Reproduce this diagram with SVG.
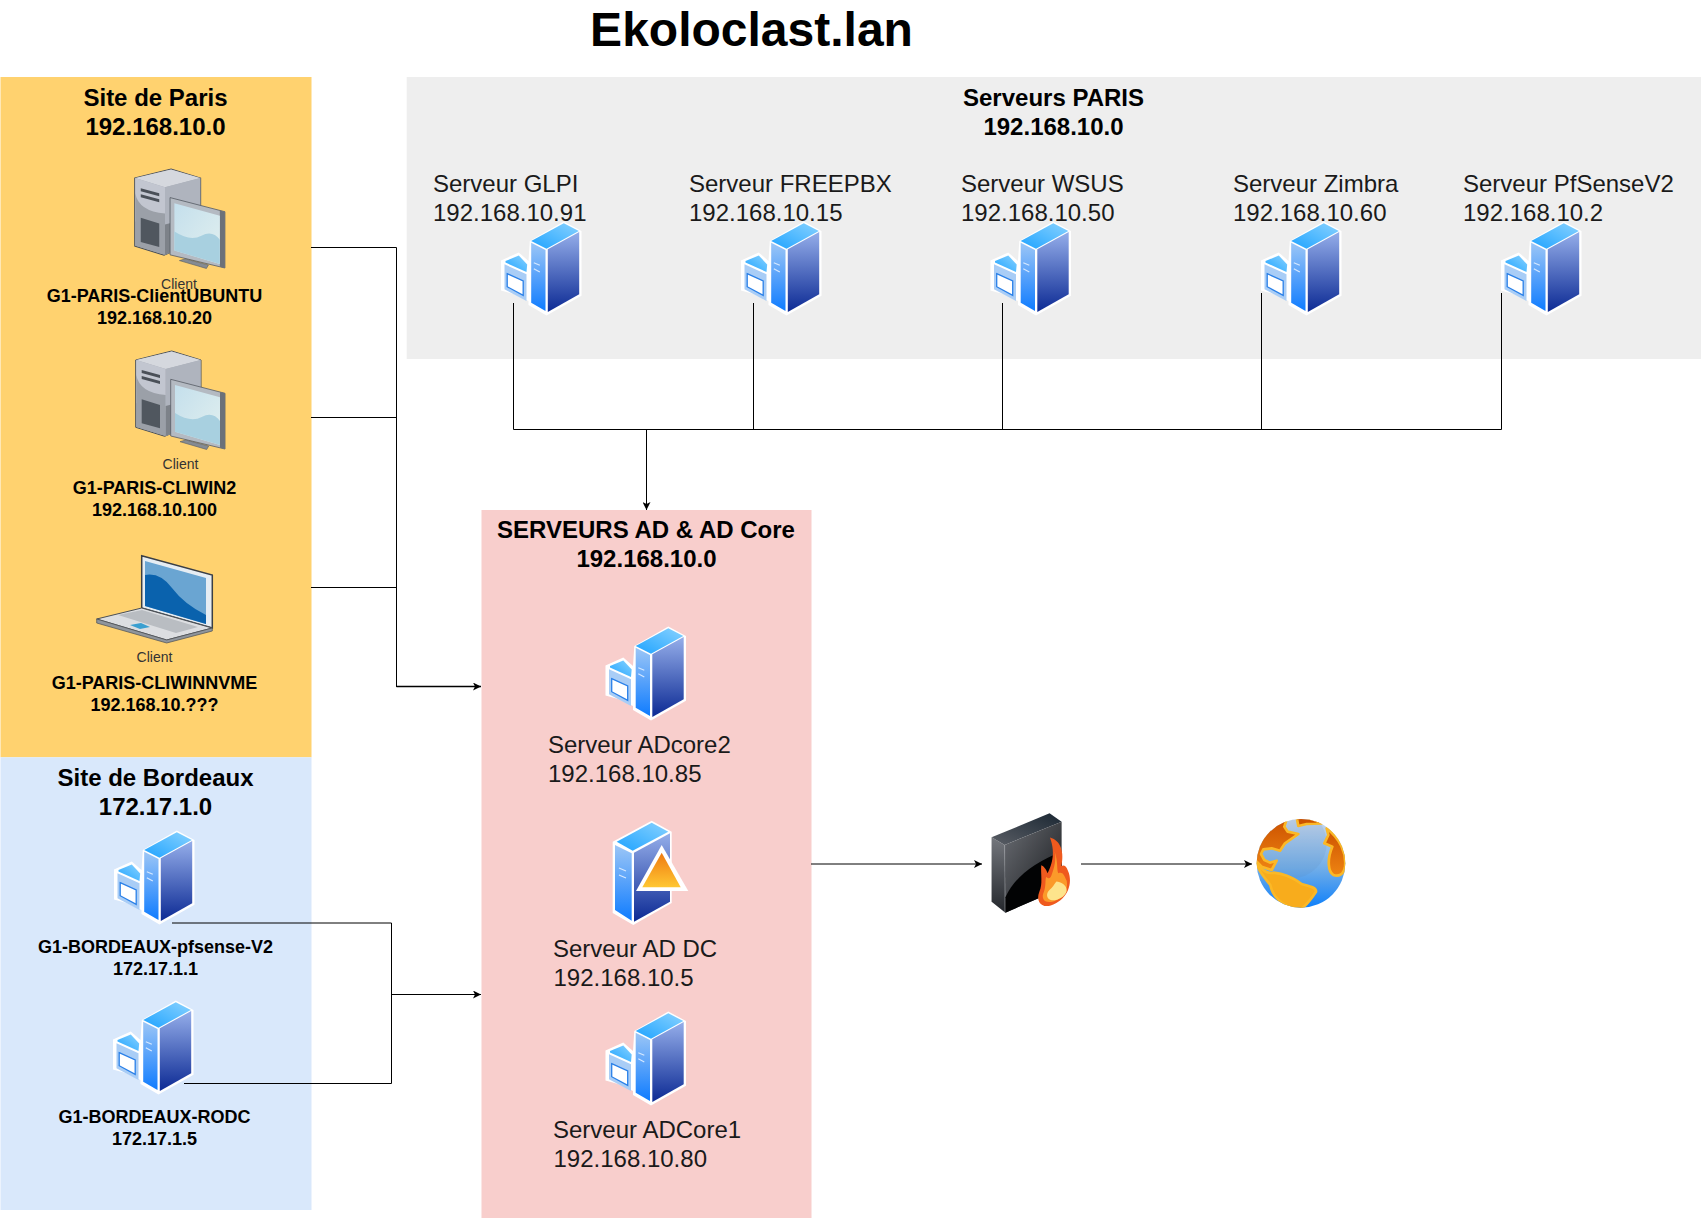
<svg xmlns="http://www.w3.org/2000/svg" width="1701" height="1218" viewBox="0 0 1701 1218">
<style>
text{font-family:"Liberation Sans",Arial,sans-serif;fill:#000}
.title{font-size:48px;font-weight:700;text-anchor:middle}
.g{font-size:24px;font-weight:700;text-anchor:middle}
.s{font-size:24px;fill:#1a1a1a}
.n{font-size:18px;font-weight:700;text-anchor:middle}
.c{font-size:14px;text-anchor:middle;fill:#333}
.l{fill:none;stroke:#000;stroke-width:1}
</style>
<defs>
<marker id="a" markerWidth="10" markerHeight="8" refX="8" refY="4" orient="auto" markerUnits="userSpaceOnUse"><path d="M0 0L8 4L0 8L2 4Z" fill="#000"/></marker>
<linearGradient id="gl" x1="0" y1="0" x2="0" y2="1"><stop offset="0" stop-color="#9cc6f6"/><stop offset="1" stop-color="#0f7cff"/></linearGradient>
<linearGradient id="gr" x1="0" y1="0" x2="0" y2="1"><stop offset="0" stop-color="#95aeea"/><stop offset="1" stop-color="#0c2a94"/></linearGradient>
<linearGradient id="gt" x1="0" y1="1" x2="1" y2="0"><stop offset="0" stop-color="#1fa3ff"/><stop offset="1" stop-color="#88d2ff"/></linearGradient>
<linearGradient id="go" x1="0" y1="0" x2="0" y2="1"><stop offset="0" stop-color="#ef7a10"/><stop offset="1" stop-color="#ffc733"/></linearGradient>
<linearGradient id="fl" x1="0" y1="0" x2="0" y2="1"><stop offset="0" stop-color="#74777d"/><stop offset="1" stop-color="#24272c"/></linearGradient>
<linearGradient id="ft" x1="0" y1="1" x2="1" y2="0"><stop offset="0" stop-color="#5a5e65"/><stop offset="1" stop-color="#1b2733"/></linearGradient>
<linearGradient id="ff" x1="0" y1="0" x2="1" y2="1"><stop offset="0" stop-color="#6a6d73"/><stop offset="1" stop-color="#141619"/></linearGradient>
<linearGradient id="gg" x1="0" y1="0" x2="0" y2="1"><stop offset="0" stop-color="#c9d8ec"/><stop offset=".55" stop-color="#72aee8"/><stop offset="1" stop-color="#0f80fa"/></linearGradient>
<linearGradient id="gf" x1="0" y1="0" x2="0" y2="1"><stop offset="0" stop-color="#cc5200"/><stop offset="1" stop-color="#ee8412"/></linearGradient>
<linearGradient id="gs" x1="0" y1="0" x2="1" y2="1"><stop offset="0" stop-color="#c4dfec"/><stop offset="1" stop-color="#e2f0ef"/></linearGradient>
<clipPath id="globe"><circle cx="168" cy="160" r="133"/></clipPath>
<symbol id="srv" viewBox="0 0 82 95" width="82" height="95" overflow="visible">
<polygon points="29.300,20 63.300,0.500 81,10 81,74.800 46,94.500 28,84 28,80 13,73 0.500,69.500 0.500,39.500 18.300,31.500 28,40" fill="#fff"/>
<polygon points="30.700,21.700 45,29 45,90 30.700,81.700" fill="url(#gl)"/>
<polygon points="47.300,28.300 78.700,11 78.700,73.300 47.300,91" fill="url(#gr)"/>
<polygon points="30.700,20 63.300,2.300 78.300,10 46,27.700" fill="url(#gt)"/>
<polygon points="5,40 18.300,34.500 26.700,43.500 26,51 5,41.500" fill="url(#gt)"/>
<polygon points="4,43.300 26,53.300 26,80 4,68.300" fill="#a9cdf6"/>
<polygon points="6.700,52.700 22.700,60 22.700,74.300 6.700,65.700" fill="#fff" stroke="#2a80e8" stroke-width="1.300"/>
<path d="M33.300 41.700L39.300 44.300M33.300 47.700L39.300 51" stroke="#d5e8ff" stroke-width="1.200" fill="none"/>
</symbol>
<symbol id="cli" viewBox="0 0 90 100" overflow="visible">
<polygon points="0,9 36,0 65.300,9 65.300,70 29,85.300 0,76.300" fill="#a8adb6" stroke="#4a5058" stroke-width="1"/>
<polygon points="0.500,9 36,0.500 65,9 30,18" fill="#d5d8de"/>
<path d="M0.500 9L30 18V60L0.500 52Z" fill="#c2c6d0"/>
<path d="M0.500 24Q4 42 30 44V85L0.500 76Z" fill="#9ba0a8"/>
<polygon points="30,18 65,9 65,70 30,85" fill="#afb4be"/>
<polygon points="30,55 65,46 65,70 30,85" fill="#7d8289"/>
<path d="M6 19L24.300 24V27L6 22ZM6 25L24.300 30V33L6 28Z" fill="#4a5058"/>
<polygon points="6,48.300 24.300,54 24.300,77.300 6,72.300" fill="#50575f"/>
<polygon points="35,28.300 89.300,42.300 89.300,98 35,85" fill="#b4bac2" stroke="#555b63" stroke-width=".8"/>
<polygon points="84.300,41 89.300,42.300 89.300,98 84.300,96.800" fill="#6b7179"/>
<polygon points="39.300,34 84.300,46.300 84.300,94 39.300,80.700" fill="url(#gs)"/>
<path d="M39.300 62Q55 72 66 66T84.300 70V94L39.300 80.700Z" fill="#a8d0e0"/>
<polygon points="44.300,90.700 50,89 73,95 71,98.500" fill="#858b93" stroke="#555b63" stroke-width=".6"/>
</symbol>
</defs>

<text class="title" x="751.500" y="46">Ekoloclast.lan</text>

<g id="site-paris"><rect x="0.500" y="77" width="311" height="680.300" fill="#ffd26f"/>
<text class="g" x="155.500" y="105.500">Site de Paris</text><text class="g" x="155.500" y="135">192.168.10.0</text></g>
<g id="site-bordeaux"><rect x="0.500" y="757.300" width="311" height="452.700" fill="#d9e8fb"/>
<text class="g" x="155.500" y="786">Site de Bordeaux</text><text class="g" x="155.500" y="815">172.17.1.0</text></g>
<g id="serveurs-paris"><rect x="406.700" y="77" width="1294.300" height="282" fill="#eeeeee"/>
<text class="g" x="1053.500" y="106">Serveurs PARIS</text><text class="g" x="1053.500" y="135">192.168.10.0</text></g>
<g id="serveurs-ad"><rect x="481.500" y="510" width="330" height="708" fill="#f8cecc"/>
<text class="g" x="646" y="538">SERVEURS AD &amp; AD Core</text><text class="g" x="646.500" y="567">192.168.10.0</text></g>

<g id="connectors">
<path class="l" d="M311 247.500H396.500V687"/>
<path class="l" d="M311 417.500H396.500"/>
<path class="l" d="M311 587.500H396.500"/>
<path class="l" d="M396.500 686.500H481" style="stroke-width:1.500" marker-end="url(#a)"/>
<path class="l" d="M172 923H391.500V1083.500H184"/>
<path class="l" d="M391.500 994.500H481" marker-end="url(#a)"/>
<path class="l" d="M513.500 303V429.500H1501.500V293"/>
<path class="l" d="M753.500 303V429.500M1002.500 303V429.500M1261.500 293V429.500"/>
<path class="l" d="M646.500 429.500V510" marker-end="url(#a)"/>
<path class="l" d="M811 864H982" marker-end="url(#a)"/>
<path class="l" d="M1081 864H1252" marker-end="url(#a)"/>
</g>

<g id="client-ubuntu"><use href="#cli" x="134.300" y="169" width="91.700" height="101"/>
<text class="c" x="179" y="289">Client</text><text class="n" x="154.500" y="302">G1-PARIS-ClientUBUNTU</text><text class="n" x="154.500" y="324">192.168.10.20</text></g>
<g id="client-win2"><use href="#cli" x="135.700" y="351" width="90" height="100"/>
<text class="c" x="180.500" y="469">Client</text><text class="n" x="154.500" y="494">G1-PARIS-CLIWIN2</text><text class="n" x="154.500" y="516">192.168.10.100</text></g>
<g id="client-nvme">
<polygon points="141.700,555.700 212.300,575 212.300,628 141.700,608" fill="#e6edf3" stroke="#3a3f46" stroke-width="1.500"/>
<polygon points="145,561 206,578 206,624 145,606" fill="#6aa5d2"/>
<path d="M145 575Q160 572 172 588T206 615V624L145 606Z" fill="#0a62ad"/>
<polygon points="96.700,619 141.700,608 212.300,628 166.700,640" fill="#dcdee1" stroke="#4a4f55"/>
<polygon points="96.700,619 96.700,623 166.700,643 212.300,631 212.300,628 166.700,640" fill="#8f959c" stroke="#4a4f55" stroke-width=".7"/>
<path d="M118 615L142 610 198 627 176 633Z" fill="#b9bdc2"/>
<polygon points="130,625 141,623 150,627 140,629" fill="#3a9fd0"/>
<text class="c" x="154.500" y="662">Client</text><text class="n" x="154.500" y="689">G1-PARIS-CLIWINNVME</text><text class="n" x="154.500" y="711">192.168.10.???</text></g>

<g id="bordeaux-pfsense"><use href="#srv" x="113.500" y="830"/>
<text class="n" x="155.500" y="953">G1-BORDEAUX-pfsense-V2</text><text class="n" x="155.500" y="975">172.17.1.1</text></g>
<g id="bordeaux-rodc"><use href="#srv" x="112.500" y="1000"/>
<text class="n" x="154.500" y="1123">G1-BORDEAUX-RODC</text><text class="n" x="154.500" y="1145">172.17.1.5</text></g>

<g id="srv-glpi"><use href="#srv" x="500.500" y="221"/><text class="s" x="433" y="191.500">Serveur GLPI</text><text class="s" x="433" y="220.500">192.168.10.91</text></g>
<g id="srv-freepbx"><use href="#srv" x="740.500" y="221"/><text class="s" x="689" y="191.500">Serveur FREEPBX</text><text class="s" x="689" y="220.500">192.168.10.15</text></g>
<g id="srv-wsus"><use href="#srv" x="990" y="221"/><text class="s" x="961" y="191.500">Serveur WSUS</text><text class="s" x="961" y="220.500">192.168.10.50</text></g>
<g id="srv-zimbra"><use href="#srv" x="1260.500" y="221"/><text class="s" x="1233" y="191.500">Serveur Zimbra</text><text class="s" x="1233" y="220.500">192.168.10.60</text></g>
<g id="srv-pfsense"><use href="#srv" x="1500.500" y="221"/><text class="s" x="1463" y="191.500">Serveur PfSenseV2</text><text class="s" x="1463" y="220.500">192.168.10.2</text></g>

<g id="adcore2"><use href="#srv" x="605" y="626"/><text class="s" x="548" y="753">Serveur ADcore2</text><text class="s" x="548" y="782">192.168.10.85</text></g>
<g id="addc">
<polygon points="612.700,841.700 651.700,820.700 671.700,831.700 671.700,903 633.300,925 612.700,913" fill="#fff"/>
<polygon points="615,845 631.700,853.300 631.700,920.700 615,910" fill="url(#gl)"/>
<polygon points="634,852.700 670,833.300 670,901.700 634,921.700" fill="url(#gr)"/>
<polygon points="616.700,841.700 651.700,822.700 668.300,831.700 632.700,850.700" fill="url(#gt)"/>
<path d="M619 868L626 871M619 875L626 878" stroke="#d5e8ff" stroke-width="1.200"/>
<polygon points="661.700,845 688.300,891 636,891" fill="#fff"/>
<polygon points="661.700,852.700 680.700,887.300 642.300,887.300" fill="url(#go)"/>
<text class="s" x="553" y="957">Serveur AD DC</text><text class="s" x="553.500" y="986">192.168.10.5</text></g>
<g id="adcore1"><use href="#srv" x="605" y="1011"/><text class="s" x="553" y="1138">Serveur ADCore1</text><text class="s" x="553.500" y="1167">192.168.10.80</text></g>

<g id="firewall" transform="translate(984 810) scale(.345 .33333)">
<polygon points="22,82 60,105 62,308 22,275" fill="url(#fl)"/>
<polygon points="22,82 190,10 225,35 60,105" fill="url(#ft)"/>
<polygon points="60,105 225,35 225,235 62,308" fill="url(#ff)"/>
<path d="M62 262Q100 175 225 125V235L62 308Z" fill="#020304"/>
<path d="M60 105V308" stroke="#c4c7cb" stroke-width="1.500" stroke-opacity=".6"/>
<g transform="translate(200 190) scale(1.100) translate(-196 -190)">
<path d="M188 92C218 100 226 135 218 170C228 165 232 172 238 190C248 225 230 265 190 278C165 285 150 265 160 240C170 220 163 190 165 168C172 170 178 180 182 190C190 170 205 140 188 92Z" fill="#ef5a1e"/>
<path d="M200 130C210 160 205 180 210 190C222 185 225 195 232 210C238 240 215 265 190 268C170 270 165 255 172 240C178 225 175 205 178 200C186 205 188 205 192 195C200 175 205 150 200 130Z" fill="#fb9a2a"/>
<path d="M205 212C215 212 234 222 232 238C228 255 205 266 190 263C178 258 178 244 186 236C196 228 198 220 205 212Z" fill="#fde48c"/>
</g>
</g>
<g id="internet" transform="translate(1245 810) scale(.33333)">
<circle cx="168" cy="160" r="133" fill="url(#gg)"/>
<g clip-path="url(#globe)">
<circle cx="140" cy="100" r="105" fill="#5d84b8" opacity=".15"/>
<g stroke="#fbb826" stroke-width="8" stroke-linejoin="round">
<path d="M30 150C35 90 80 40 125 28L118 50 128 65 160 72 120 100 105 122 80 115 55 118 48 132 58 150 75 158 95 152 80 180 50 170Z" fill="url(#gf)"/>
<path d="M155 22Q190 18 230 40L185 42 160 48Z" fill="#cc5200"/>
<path d="M245 55C285 85 305 130 300 170C296 195 280 200 265 195C250 185 245 150 262 110L238 100 250 75Z" fill="url(#gf)"/>
<path d="M30 155C50 182 70 192 85 188C115 192 135 198 170 222C190 228 215 232 213 245C200 265 185 285 165 300C125 292 85 270 76 225C60 205 45 190 30 155Z" fill="#f8ac1c"/>
</g>
</g>
</g>
</svg>
